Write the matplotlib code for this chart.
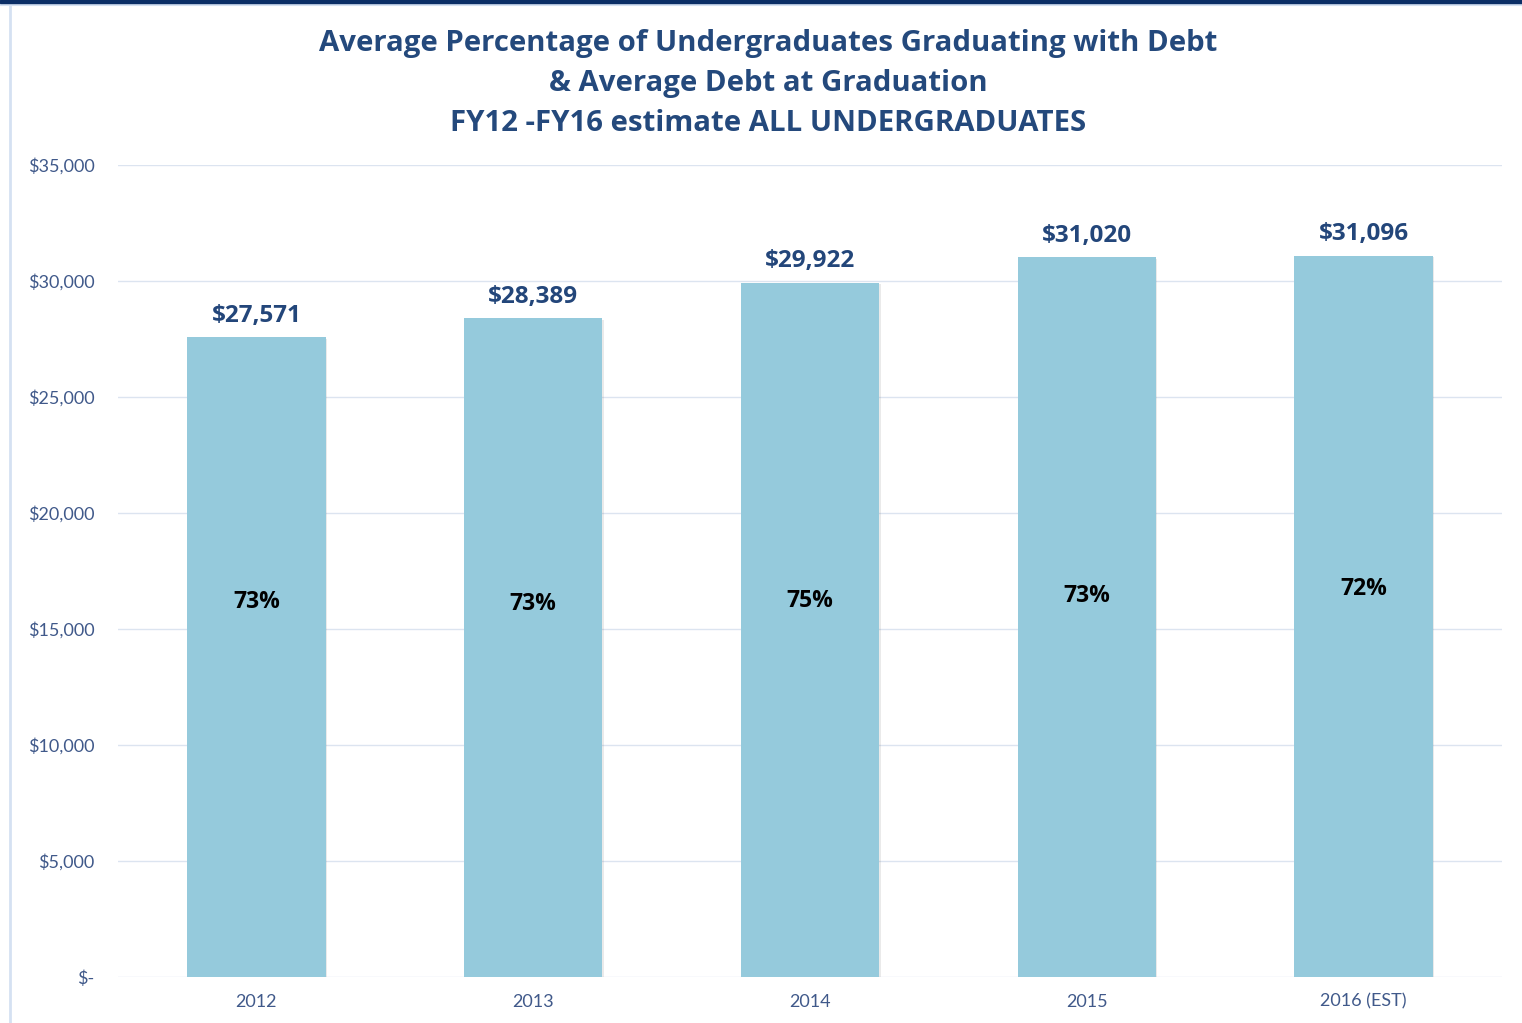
import matplotlib.pyplot as plt
import matplotlib.patheffects as pe
from matplotlib.ticker import FuncFormatter
from matplotlib.lines import Line2D

# --- data ---
years = ["2012", "2013", "2014", "2015", "2016 (EST)"]
avg_debt = [27571, 28389, 29922, 31020, 31096]
pct_with_debt = [73, 73, 75, 73, 72]
# vertical spot of the % label inside each bar (in $ units, as in the original)
pct_label_y = [16150, 16060, 16190, 16410, 16710]

TITLE = ("Average Percentage of Undergraduates Graduating with Debt\n"
         "& Average Debt at Graduation\n"
         "FY12 -FY16 estimate ALL UNDERGRADUATES")

BAR_COLOR = "#95CADC"
TITLE_COLOR = "#24497C"
VALUE_COLOR = "#23467A"
TICK_COLOR = "#40598A"
GRID_COLOR = "#DCE4F0"

fig = plt.figure(figsize=(15.22, 10.23), dpi=100)
fig.patch.set_facecolor("white")

# frame bits of the original slide
fig.add_artist(plt.Rectangle((0, 1 - 3 / 1023), 1, 3 / 1023, transform=fig.transFigure,
                             color="#0B2E66", zorder=5))
fig.add_artist(Line2D([0, 1], [1 - 4.5 / 1023] * 2, transform=fig.transFigure,
                      color="#D5E1F2", lw=1.5))
fig.add_artist(Line2D([9.5 / 1522] * 2, [0, 1 - 5 / 1023], transform=fig.transFigure,
                      color="#D5E1F2", lw=2))

ax = fig.add_axes([118 / 1522, 1 - 977 / 1023, (1502 - 118) / 1522, (977 - 165) / 1023])

x = range(len(years))
bars = ax.bar(x, avg_debt, width=0.5, color=BAR_COLOR, zorder=3)
for b in bars:
    b.set_path_effects([pe.SimplePatchShadow(offset=(1, -1), alpha=0.12, shadow_rgbFace="#555555"),
                        pe.Normal()])

ax.set_xlim(-0.5, len(years) - 0.5)
ax.set_ylim(0, 35000)
ax.set_yticks(range(0, 35001, 5000))
ax.yaxis.set_major_formatter(FuncFormatter(lambda v, p: "$-" if v == 0 else f"${v:,.0f}"))
ax.set_xticks(list(x))
ax.set_xticklabels(years)

ax.grid(axis="y", color=GRID_COLOR, lw=1, zorder=0)
for s in ax.spines.values():
    s.set_visible(False)
ax.tick_params(length=0, colors=TICK_COLOR, labelsize=13)
ax.tick_params(axis="y", pad=17)
ax.tick_params(axis="x", pad=12)
for lbl in ax.get_xticklabels() + ax.get_yticklabels():
    lbl.set_family("Lato")

for i, (v, p, py) in enumerate(zip(avg_debt, pct_with_debt, pct_label_y)):
    ax.annotate(f"${v:,}", (i, v), xytext=(0, 15.5), textcoords="offset points",
                ha="center", va="center", fontsize=17.5, fontweight="bold",
                color=VALUE_COLOR, family="Open Sans")
    ax.text(i, py, f"{p}%", ha="center", va="center", fontsize=16.5,
            fontweight="bold", color="black", family="Open Sans")

fig.text(768 / 1522, 1 - 83.5 / 1023, TITLE, ha="center", va="center",
         fontsize=21.2, fontweight="bold", color=TITLE_COLOR, family="Open Sans",
         linespacing=1.5)

fig.savefig("out.png", dpi=100)
